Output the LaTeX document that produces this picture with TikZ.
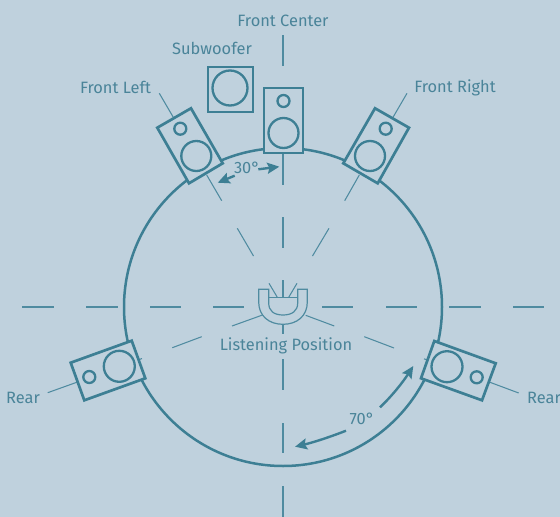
\documentclass[tikz,border=0pt]{standalone}
\usepackage{fontspec}
\setmainfont{Fira Sans}
\usetikzlibrary{arrows.meta}
\definecolor{bgc}{HTML}{BFD1DD}
\definecolor{ink}{HTML}{3D7F94}
\definecolor{txt}{HTML}{4A8499}
\definecolor{fine}{HTML}{4F8BA0}
\tikzset{
  thin line/.style={draw=fine,line width=1.05pt},
  box/.style={draw=ink,fill=bgc,line width=2.7pt,miter limit=10},
  cone/.style={draw=ink,fill=bgc,line width=2.3pt},
  sweep/.style={draw=ink,line width=2.4pt,-{Stealth[length=12pt,width=11pt,inset=2pt]}},
  lbl/.style={text=txt,font=\fontsize{16.4}{18}\selectfont,inner sep=0pt,anchor=center}
}
\begin{document}
\begin{tikzpicture}[x=1pt,y=-1pt]
\fill[bgc] (0,0) rectangle (560,517);
\useasboundingbox (0,0) rectangle (560,517);
% axis dashes
\foreach \a/\b in {35/66,153/185,217/248,280/297,325/334,359/390,423/453,486/517}
  \draw[thin line] (283,\a) -- (283,\b);
\foreach \a/\b in {22/54,86/118,150/181,213/244,322/353,386/417,449/481,513/544}
  \draw[thin line] (\a,307) -- (\b,307);
% diagonal dashes
\draw[thin line] (159.3,93.3) -- (173.3,117.3);
\draw[thin line] (206.7,175) -- (221.7,200.7);
\draw[thin line] (237.3,228.3) -- (253.5,256);
\draw[thin line] (269,283.3) -- (277.3,297.3);
\draw[thin line] (407,93.3) -- (393,117.3);
\draw[thin line] (359.3,175) -- (344.7,200.7);
\draw[thin line] (329,228.3) -- (312.5,256);
\draw[thin line] (297,283.3) -- (288.7,297.3);
\draw[thin line] (305.7,315.3) -- (334.3,326);
\draw[thin line] (364.3,336.7) -- (394,348);
\draw[thin line] (490,382.3) -- (518.7,393);
\draw[thin line] (261.7,315.3) -- (232,326);
\draw[thin line] (201.7,336.7) -- (172.3,347.7);
\draw[thin line] (76.7,382.3) -- (47.7,392.7);
\draw[thin line] (424,358.8) -- (428,360.4);
\draw[thin line] (142,358.5) -- (138,360);
% room circle
\draw[draw=ink,line width=2.5pt] (283,307) circle[radius=159];
% listener
\draw[draw=fine,fill=bgc,line width=1.2pt,line join=miter]
  (258.7,289.3) -- (268.7,289.3) -- (268.7,303)
  .. controls (268.7,311) and (274,315) .. (283,315)
  .. controls (292,315) and (297.7,311) .. (297.7,303)
  -- (297.7,289.3) -- (307.3,289.3) -- (307.3,302)
  .. controls (307.3,316) and (297,324.3) .. (283,324.3)
  .. controls (269,324.3) and (258.7,316) .. (258.7,302) -- cycle;
\draw[thin line] (268.7,297.7) -- (297.7,297.7);
% subwoofer
\draw[box] (208,67) rectangle (253,112);
\draw[cone] (230,88) circle[radius=17.5];
% front centre
\draw[box] (264,88) rectangle (303,153);
\draw[cone] (283.5,101) circle[radius=6];
\draw[cone] (283.5,133) circle[radius=15];
% front left
\draw[box] (157.3,127.7) -- (191,108.3) -- (222.7,163.3) -- (189,183.3) -- cycle;
\draw[cone] (180.3,128.7) circle[radius=6];
\draw[cone] (196.3,156) circle[radius=15];
% front right
\draw[box] (375,108.3) -- (409,127.7) -- (377.7,183.3) -- (343.3,163.3) -- cycle;
\draw[cone] (385.7,128.7) circle[radius=6];
\draw[cone] (370,156) circle[radius=15];
% rear right
\draw[box] (434.3,341) -- (495.7,363.3) -- (482,400.3) -- (421,378.3) -- cycle;
\draw[cone] (447,366.7) circle[radius=15.5];
\draw[cone] (476.7,377.3) circle[radius=6];
% rear left
\draw[box] (70.7,362.7) -- (131.7,340.7) -- (145.3,378.3) -- (84.3,400.3) -- cycle;
\draw[cone] (119.3,366.3) circle[radius=15.5];
\draw[cone] (89.3,377) circle[radius=6];
% angle arrows
\draw[sweep] (234.7,175.7) -- (217.7,182.7);
\draw[sweep] (258.3,169.3) -- (279.3,166.7);
\draw[sweep] (380,407.3) .. controls (392,396) and (403,382) .. (413.3,366);
\draw[sweep] (346,430.7) .. controls (330,437) and (313,442.5) .. (295,446.7);
% labels
\node[lbl] (fc) at (283,20.7) {Front Center};
\node[lbl] (sw) at (212,48.7) {Subwoofer};
\node[lbl] (fl) at (115.5,87.7) {Front Left};
\node[lbl] (fr) at (455,87.7) {Front Right};
\node[lbl] (rl) at (23,397.5) {Rear};
\node[lbl,anchor=west] (rr) at (527,397.5) {Rear};
\node[lbl] (lp) at (286,345.7) {Listening Position};
\node[lbl] (a30) at (247,167.5) {30°};
\node[lbl] (a70) at (362,418.5) {70°};
\end{tikzpicture}
\end{document}
